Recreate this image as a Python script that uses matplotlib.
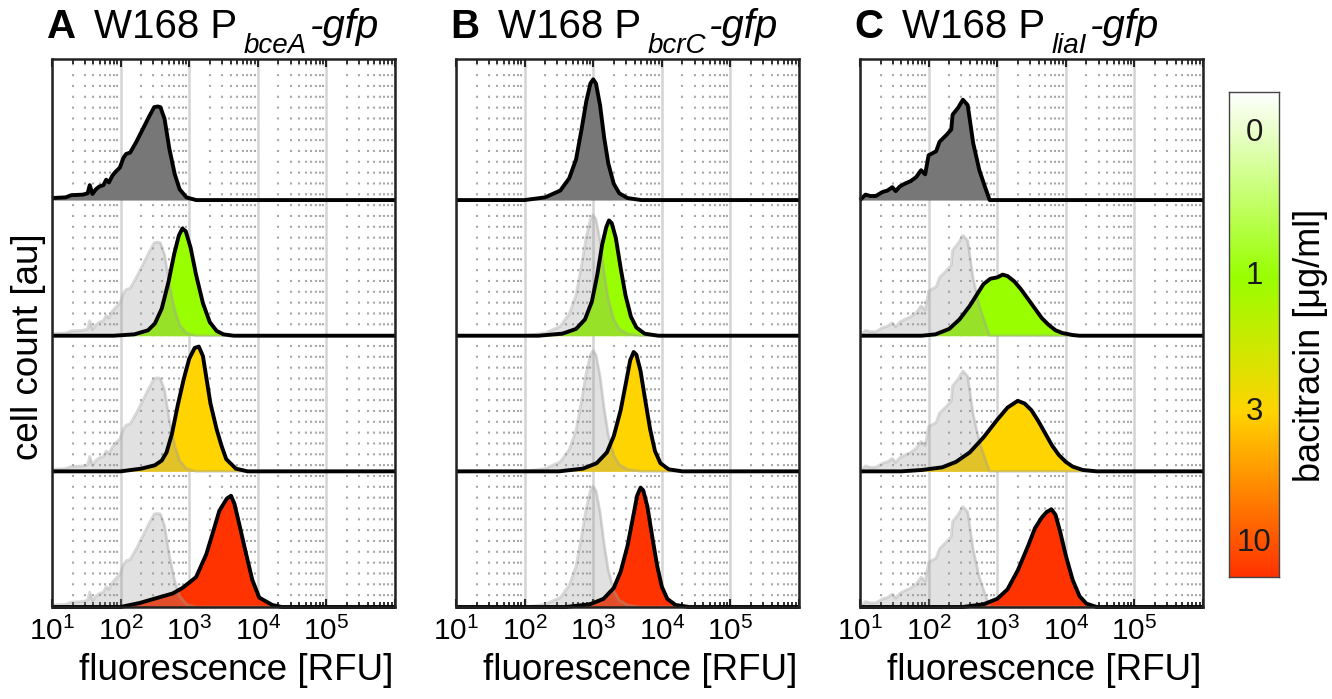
import numpy as np
import matplotlib
matplotlib.use("Agg")
import matplotlib.pyplot as plt
from matplotlib.colors import LinearSegmentedColormap
from matplotlib.ticker import LogLocator

plt.rcParams['font.family'] = ['Liberation Sans', 'DejaVu Sans']
plt.rcParams['mathtext.fontset'] = 'custom'
plt.rcParams['mathtext.rm'] = 'Liberation Sans'
plt.rcParams['mathtext.it'] = 'Liberation Sans:italic'
plt.rcParams['mathtext.bf'] = 'Liberation Sans:bold'

# bacitracin concentrations (ug/ml), one row per concentration
levels = ["0", "1", "3", "10"]
fill_colors = ["#777777", "#99ff00", "#ffd400", "#ff3300"]

# histograms: log10(fluorescence) and normalised cell count
# --- P_bceA
bceA_0_x = [1.0, 1.2, 1.28, 1.45, 1.52, 1.55, 1.59, 1.64, 1.69, 1.75, 1.79, 1.83, 1.88, 1.93, 1.99,
            2.04, 2.08, 2.14, 2.23, 2.32, 2.42, 2.49, 2.54, 2.58, 2.64, 2.71, 2.79, 2.86, 2.96, 3.1]
bceA_0_h = [0.015, 0.02, 0.036, 0.04, 0.05, 0.11, 0.045, 0.08, 0.10, 0.11, 0.15, 0.13, 0.18, 0.21, 0.24,
            0.31, 0.34, 0.35, 0.43, 0.52, 0.62, 0.685, 0.69, 0.685, 0.60, 0.38, 0.19, 0.08, 0.02, 0.0]
bceA_1_x = [1.9, 2.2, 2.4, 2.5, 2.6, 2.7, 2.78, 2.85, 2.9, 2.95, 3.02, 3.1, 3.2, 3.3, 3.4, 3.5, 3.65]
bceA_1_h = [0.0, 0.01, 0.04, 0.09, 0.2, 0.4, 0.6, 0.74, 0.79, 0.77, 0.65, 0.45, 0.24, 0.1, 0.035, 0.01, 0.0]
bceA_3_x = [2.0, 2.3, 2.5, 2.6, 2.67, 2.75, 2.83, 2.92, 3.0, 3.08, 3.14, 3.2, 3.31, 3.4, 3.47, 3.54, 3.68, 3.85]
bceA_3_h = [0.0, 0.02, 0.045, 0.08, 0.14, 0.28, 0.48, 0.68, 0.83, 0.91, 0.92, 0.85, 0.5, 0.31, 0.19, 0.09, 0.02, 0.0]
bceA_10_x = [2.0, 2.28, 2.52, 2.76, 2.9, 3.1, 3.25, 3.34, 3.44, 3.55, 3.61, 3.66, 3.73, 3.83, 3.92, 4.02, 4.21, 4.35]
bceA_10_h = [0.0, 0.03, 0.065, 0.10, 0.14, 0.22, 0.39, 0.54, 0.71, 0.80, 0.82, 0.76, 0.61, 0.39, 0.20, 0.07, 0.015, 0.0]

# --- P_bcrC
bcrC_0_x = [2.0, 2.3, 2.52, 2.65, 2.75, 2.83, 2.9, 2.96, 3.0, 3.04, 3.1, 3.16, 3.22, 3.3, 3.38, 3.5, 3.7]
bcrC_0_h = [0.0, 0.02, 0.07, 0.16, 0.3, 0.52, 0.73, 0.86, 0.89, 0.86, 0.7, 0.46, 0.27, 0.12, 0.05, 0.015, 0.0]
bcrC_1_x = [2.2, 2.55, 2.75, 2.88, 2.98, 3.06, 3.13, 3.19, 3.23, 3.27, 3.33, 3.4, 3.47, 3.55, 3.63, 3.75, 3.95]
bcrC_1_h = [0.0, 0.015, 0.05, 0.12, 0.25, 0.45, 0.67, 0.8, 0.85, 0.83, 0.72, 0.5, 0.3, 0.14, 0.06, 0.015, 0.0]
bcrC_3_x = [2.5, 2.85, 3.05, 3.2, 3.3, 3.4, 3.48, 3.54, 3.59, 3.63, 3.69, 3.76, 3.83, 3.9, 3.98, 4.1, 4.3]
bcrC_3_h = [0.0, 0.02, 0.06, 0.14, 0.26, 0.45, 0.66, 0.82, 0.88, 0.86, 0.74, 0.52, 0.31, 0.15, 0.06, 0.015, 0.0]
bcrC_10_x = [2.6, 2.95, 3.15, 3.3, 3.4, 3.5, 3.58, 3.64, 3.69, 3.73, 3.79, 3.86, 3.93, 4.0, 4.08, 4.2, 4.4]
bcrC_10_h = [0.0, 0.02, 0.06, 0.14, 0.26, 0.45, 0.66, 0.82, 0.88, 0.86, 0.74, 0.52, 0.31, 0.15, 0.06, 0.015, 0.0]

# --- P_liaI
liaI_0_x = [1.0, 1.08, 1.15, 1.23, 1.33, 1.40, 1.47, 1.52, 1.58, 1.65, 1.74, 1.82, 1.89, 1.95, 2.0,
            2.11, 2.16, 2.26, 2.33, 2.35, 2.43, 2.5, 2.57, 2.65, 2.74, 2.82, 2.89]
liaI_0_h = [0.0, 0.04, 0.03, 0.03, 0.06, 0.07, 0.095, 0.066, 0.10, 0.12, 0.14, 0.17, 0.22, 0.19, 0.33,
            0.36, 0.43, 0.48, 0.52, 0.63, 0.68, 0.74, 0.70, 0.42, 0.22, 0.10, 0.0]
liaI_1_x = [1.9, 2.1, 2.3, 2.45, 2.6, 2.7, 2.8, 2.9, 3.0, 3.08, 3.15, 3.25, 3.35, 3.45, 3.55, 3.65, 3.75,
            3.85, 3.95, 4.1, 4.2]
liaI_1_h = [0.0, 0.01, 0.05, 0.12, 0.22, 0.3, 0.38, 0.42, 0.43, 0.45, 0.44, 0.4, 0.34, 0.27, 0.2, 0.13, 0.08,
            0.04, 0.02, 0.005, 0.0]
liaI_3_x = [1.6, 1.9, 2.2, 2.4, 2.6, 2.8, 3.0, 3.15, 3.3, 3.4, 3.5, 3.6, 3.7, 3.8, 3.9, 4.0, 4.1, 4.25, 4.45]
liaI_3_h = [0.0, 0.01, 0.03, 0.07, 0.14, 0.25, 0.38, 0.47, 0.52, 0.5, 0.45, 0.37, 0.28, 0.19, 0.12, 0.07,
            0.035, 0.01, 0.0]
liaI_10_x = [2.5, 2.8, 3.0, 3.15, 3.3, 3.45, 3.55, 3.65, 3.72, 3.79, 3.85, 3.92, 4.0, 4.1, 4.2, 4.3, 4.45]
liaI_10_h = [0.0, 0.02, 0.06, 0.13, 0.27, 0.45, 0.58, 0.66, 0.7, 0.72, 0.68, 0.55, 0.38, 0.2, 0.08, 0.025, 0.0]

panels = [
    ("A", "bceA", [(bceA_0_x, bceA_0_h), (bceA_1_x, bceA_1_h), (bceA_3_x, bceA_3_h), (bceA_10_x, bceA_10_h)]),
    ("B", "bcrC", [(bcrC_0_x, bcrC_0_h), (bcrC_1_x, bcrC_1_h), (bcrC_3_x, bcrC_3_h), (bcrC_10_x, bcrC_10_h)]),
    ("C", "liaI", [(liaI_0_x, liaI_0_h), (liaI_1_x, liaI_1_h), (liaI_3_x, liaI_3_h), (liaI_10_x, liaI_10_h)]),
]

decades = np.arange(1, 7)
tick_labels = [r"$10^{%d}$" % d for d in decades[:-1]] + [""]

# colour scale positions (fraction from the top of the bar)
cbar_pos = [0.085, 0.38, 0.66, 0.93]
cbar_colors = ["#ffffff", "#99ff00", "#ffd400", "#ff3300"]


def pad(x, h):
    # extend a histogram with zero counts to the ends of the axis
    x = np.asarray(x, float)
    h = np.asarray(h, float)
    if x[0] > decades[0]:
        x = np.r_[decades[0], x]
        h = np.r_[0.0, h]
    if x[-1] < decades[-1]:
        x = np.r_[x, decades[-1]]
        h = np.r_[h, 0.0]
    return 10 ** x, h


fig = plt.figure(figsize=(13.32, 6.99), dpi=100)

lefts = [52, 456, 860]
for (letter, gene, curves), left in zip(panels, lefts):
    ax = fig.add_axes([left / 1332, (699 - 607) / 699, 343 / 1332, (607 - 59) / 699])
    ax.set_xscale('log')
    ax.set_xlim(10.0 ** decades[0], 10.0 ** decades[-1])
    ax.set_ylim(0, 4.04)

    cx, ch = pad(*curves[0])
    for i, (x, h) in enumerate(curves):
        base = len(curves) - 1 - i
        fx, fh = pad(x, h)
        ax.fill_between(fx, base, base + fh, color=fill_colors[i], lw=0, zorder=2)
        if i > 0:
            # untreated control underneath for comparison
            ax.fill_between(cx, base, base + ch, color="#969696", alpha=0.28, lw=0, zorder=3)
            ax.plot(cx, base + ch, color="#a0a0a0", alpha=0.4, lw=2.0, zorder=3)
        ax.plot(fx, base + fh, color="black", lw=2.8, zorder=4, clip_on=False,
                solid_capstyle='butt', solid_joinstyle='round')

    ax.set_xticks(10.0 ** decades, tick_labels)
    ax.xaxis.set_minor_locator(LogLocator(base=10, subs=np.arange(2, 10), numticks=30))
    ax.set_yticks([])
    ax.set_axisbelow(True)
    ax.grid(True, which='major', axis='x', color="#d4d4d4", lw=1.8)
    ax.grid(True, which='minor', axis='x', color="#a8a8a8", lw=1.5, linestyle=(0, (1.0, 4.2)))
    ax.tick_params(which='both', direction='in', top=True, bottom=True, color="#222222")
    ax.tick_params(which='major', length=5.5, width=1.5, labelsize=21.5, pad=7)
    ax.tick_params(which='minor', length=3.5, width=1.3)
    for sp in ax.spines.values():
        sp.set_linewidth(1.8)
        sp.set_color("#222222")
        sp.set_zorder(5)

    ax.set_xlabel("fluorescence [RFU]", fontsize=26.5, labelpad=5)
    ax.xaxis.label.set_x(0.538)
    if letter == "A":
        ax.set_ylabel("cell count [au]", fontsize=26.5, labelpad=4)
        ax.yaxis.label.set_y(0.475)

    # panel title: letter, strain and reporter fusion
    t = ax.text(-0.016, 1.038, letter, transform=ax.transAxes, fontsize=29,
                fontweight='bold', va='baseline')
    t = ax.annotate("W168 P", xy=(1, 1.038), xycoords=(t, 'axes fraction'), xytext=(13, 0),
                    textcoords='offset points', fontsize=29, va='baseline')
    t = ax.annotate(gene, xy=(1, 1.038), xycoords=(t, 'axes fraction'), xytext=(5, -11),
                    textcoords='offset points', fontsize=20, style='italic', va='baseline')
    ax.annotate("-gfp", xy=(1, 1.038), xycoords=(t, 'axes fraction'), xytext=(2, 0),
                textcoords='offset points', fontsize=29, style='italic', va='baseline')

# bacitracin colour bar
cmap = LinearSegmentedColormap.from_list("bac", list(zip([0.0] + cbar_pos[1:-1] + [1.0], cbar_colors)))
cax = fig.add_axes([1229 / 1332, (699 - 577) / 699, 50 / 1332, 485 / 699])
cax.imshow(np.linspace(0, 1, 256)[:, None], aspect='auto', cmap=cmap, extent=[0, 1, 1, 0])
cax.set_xticks([])
cax.set_yticks([])
for sp in cax.spines.values():
    sp.set_linewidth(1.0)
    sp.set_color("#444444")
for lab, p in zip(levels, cbar_pos):
    cax.text(0.5, p, lab, ha='center', va='center', fontsize=22.5, color="#1a1a1a")
fig.text(1311 / 1332, 1 - 345 / 699, "bacitracin [\u03bcg/ml]", rotation=90, ha='center',
         va='center', fontsize=26)

fig.savefig("out.png", dpi=100)
